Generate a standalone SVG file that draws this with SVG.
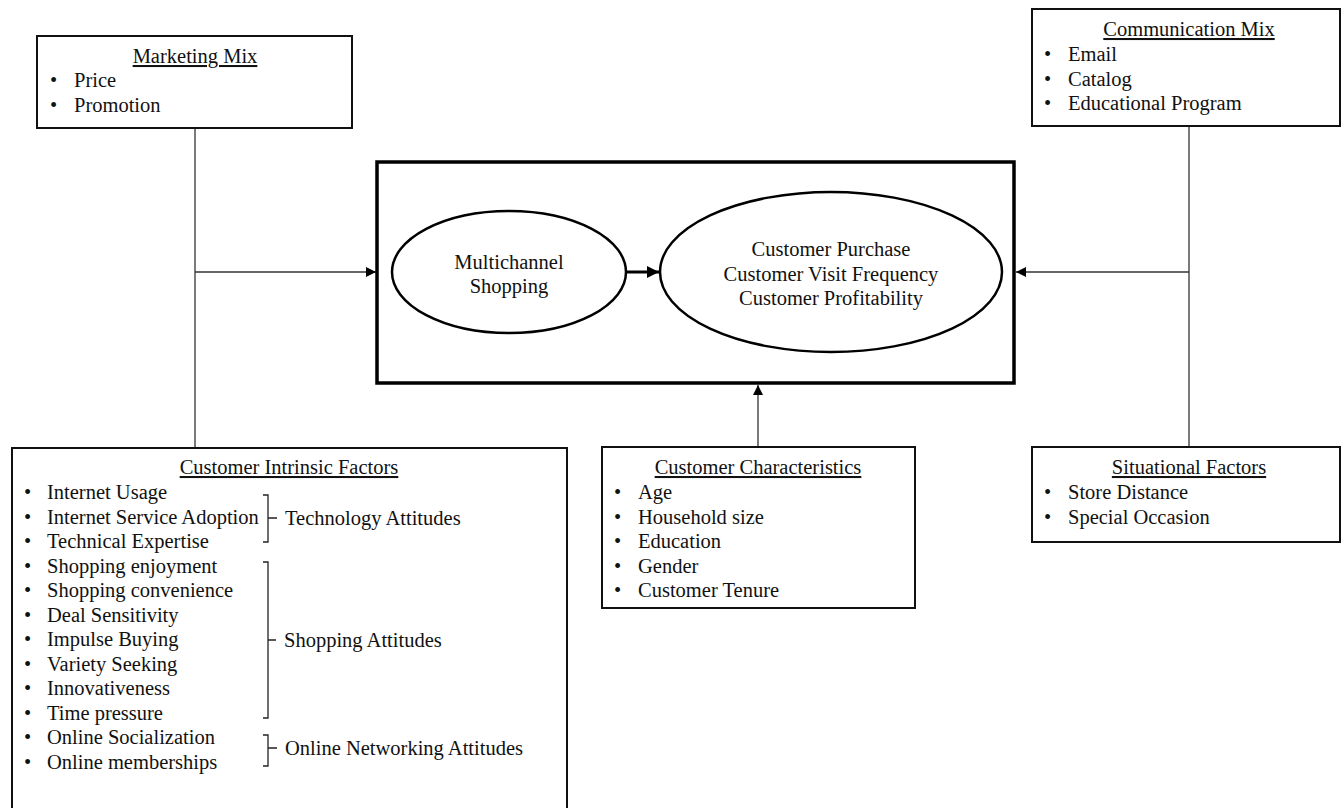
<svg xmlns="http://www.w3.org/2000/svg" width="1341" height="808" viewBox="0 0 1341 808">
<defs>
<style>
text{font-family:"Liberation Serif","Times New Roman",serif;font-size:20.5px;fill:#111}
.t{text-anchor:middle;text-decoration:underline}
.c{text-anchor:middle}
.box{fill:#fff;stroke:#111;stroke-width:2}
.main{fill:none;stroke:#000;stroke-width:3.5}
.ell{fill:#fff;stroke:#000;stroke-width:2.5}
.ln{fill:none;stroke:#333;stroke-width:1.3}
.br{fill:none;stroke:#222;stroke-width:1.3}
</style>
<marker id="ah" viewBox="0 0 10 10" refX="10" refY="5" markerWidth="10" markerHeight="10" markerUnits="userSpaceOnUse" orient="auto">
<path d="M0,0 L10,5 L0,10 z" fill="#000"/>
</marker>
<marker id="ah2" viewBox="0 0 10 10" refX="10" refY="5" markerWidth="4" markerHeight="4" orient="auto">
<path d="M0,0 L10,5 L0,10 z" fill="#000"/>
</marker>
</defs>
<rect width="1341" height="808" fill="#fff"/>

<g id="connectors">
<path class="ln" d="M195,128 V447"/>
<path class="ln" d="M195,272 H376" marker-end="url(#ah)"/>
<path class="ln" d="M1189,126 V447"/>
<path class="ln" d="M1189,272 H1016" marker-end="url(#ah)"/>
<path class="ln" d="M758,447 V385" marker-end="url(#ah)"/>
<path d="M627,272 H659" stroke="#000" stroke-width="3" fill="none" marker-end="url(#ah2)"/>
</g>

<g id="main">
<rect class="main" x="377" y="162" width="637" height="221"/>
</g>

<g id="multichannel">
<ellipse class="ell" cx="509" cy="272" rx="117" ry="61"/>
<text class="c" x="509" y="269">Multichannel</text>
<text class="c" x="509" y="293">Shopping</text>
</g>

<g id="outcomes">
<ellipse class="ell" cx="831" cy="272" rx="171" ry="80"/>
<text class="c" x="831" y="256">Customer Purchase</text>
<text class="c" x="831" y="280.5">Customer Visit Frequency</text>
<text class="c" x="831" y="305">Customer Profitability</text>
</g>

<g id="marketing-mix">
<rect class="box" x="37" y="36" width="315" height="92"/>
<text class="t" x="195" y="63">Marketing Mix</text>
<text x="50" y="87">•</text><text x="74" y="87">Price</text>
<text x="50" y="111.5">•</text><text x="74" y="111.5">Promotion</text>
</g>

<g id="communication-mix">
<rect class="box" x="1032" y="9" width="308" height="117"/>
<text class="t" x="1189" y="36">Communication Mix</text>
<text x="1044" y="61">•</text><text x="1068" y="61">Email</text>
<text x="1044" y="85.5">•</text><text x="1068" y="85.5">Catalog</text>
<text x="1044" y="110">•</text><text x="1068" y="110">Educational Program</text>
</g>

<g id="customer-intrinsic">
<rect class="box" x="12" y="448" width="555" height="370"/>
<text class="t" x="289" y="474">Customer Intrinsic Factors</text>
<text x="24" y="499">•</text><text x="47" y="499">Internet Usage</text>
<text x="24" y="523.5">•</text><text x="47" y="523.5">Internet Service Adoption</text>
<text x="24" y="548">•</text><text x="47" y="548">Technical Expertise</text>
<text x="24" y="572.5">•</text><text x="47" y="572.5">Shopping enjoyment</text>
<text x="24" y="597">•</text><text x="47" y="597">Shopping convenience</text>
<text x="24" y="621.5">•</text><text x="47" y="621.5">Deal Sensitivity</text>
<text x="24" y="646">•</text><text x="47" y="646">Impulse Buying</text>
<text x="24" y="670.5">•</text><text x="47" y="670.5">Variety Seeking</text>
<text x="24" y="695">•</text><text x="47" y="695">Innovativeness</text>
<text x="24" y="719.5">•</text><text x="47" y="719.5">Time pressure</text>
<text x="24" y="744">•</text><text x="47" y="744">Online Socialization</text>
<text x="24" y="768.5">•</text><text x="47" y="768.5">Online memberships</text>
<path class="br" d="M263,495 H268 V542 H263 M268,518 H277"/>
<path class="br" d="M263,562 H268 V718 H263 M268,640 H276"/>
<path class="br" d="M263,735 H268 V766 H263 M268,748 H277"/>
<text x="285" y="525">Technology Attitudes</text>
<text x="284" y="647">Shopping Attitudes</text>
<text x="285" y="755">Online Networking Attitudes</text>
</g>

<g id="customer-characteristics">
<rect class="box" x="602" y="447" width="313" height="161"/>
<text class="t" x="758" y="474">Customer Characteristics</text>
<text x="614" y="499">•</text><text x="638" y="499">Age</text>
<text x="614" y="523.5">•</text><text x="638" y="523.5">Household size</text>
<text x="614" y="548">•</text><text x="638" y="548">Education</text>
<text x="614" y="572.5">•</text><text x="638" y="572.5">Gender</text>
<text x="614" y="597">•</text><text x="638" y="597">Customer Tenure</text>
</g>

<g id="situational-factors">
<rect class="box" x="1032" y="447" width="308" height="95"/>
<text class="t" x="1189" y="474">Situational Factors</text>
<text x="1044" y="499">•</text><text x="1068" y="499">Store Distance</text>
<text x="1044" y="523.5">•</text><text x="1068" y="523.5">Special Occasion</text>
</g>
</svg>
